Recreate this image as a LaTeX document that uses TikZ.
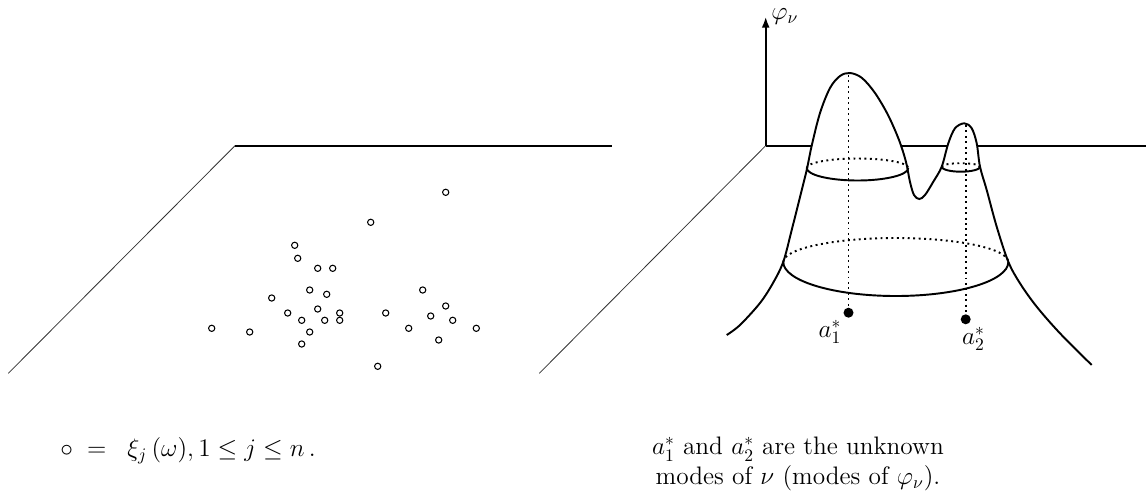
\documentclass[tikz,border=0pt]{standalone}
\usetikzlibrary{arrows.meta}

\begin{document}
\begin{tikzpicture}[x=0.02cm,y=-0.02cm,every node/.style={font=\Large},
  sample/.style={circle,draw,line width=0.6pt,inner sep=0pt,minimum size=0.125cm},
  mode/.style={circle,fill,inner sep=0pt,minimum size=0.2cm},
  surf/.style={line width=1.1pt},
  edge/.style={line width=1pt},
  floor/.style={line width=0.45pt,black!80}]
  \useasboundingbox (0,0) rectangle (1146,495);
  % left plane with the sample points
  \coordinate (lf) at (8.3,373.3);
  \coordinate (lb) at (235,145.7);
  \coordinate (lr) at (612,145.7);
  \draw[floor] (lf)--(lb);
  \draw[edge] (lb)--(lr);
  \foreach \x/\y [count=\i] in {445.7/192.3,370.7/222.3,294.7/245.3,297.7/258.3,317.7/268.3,
      332.7/268.3,309.7/290,326.7/294.3,271.7/298,422.7/290,445.7/306,317.7/309,287.7/313,
      339.7/313,385.7/313,430.7/316,301.7/320.3,324.7/320.3,339.7/320.3,452.7/320.3,
      211.7/328.3,249.7/332,408.7/328.3,476.3/328.3,309.7/332,438.7/340,301.7/344,377.7/366.3}
    \node[sample] (s\i) at (\x,\y) {};
  \node[anchor=base west,inner sep=0pt] (leg) at (60,456.7)
    {$\circ\;=\;\;\xi_j\,(\omega),1 \le j \le n\,.$};
  % right plane with the density
  \coordinate (rf) at (539.3,373.3);
  \coordinate (o) at (765.7,145.7);
  \coordinate (rr) at (1146,145.7);
  \draw[floor] (rf)--(o);
  \draw[edge] (o)--(rr);
  \draw[edge,-{Latex[length=6pt,width=4.5pt]}] (o)--(765.7,17) coordinate (top);
  \node[anchor=west,inner sep=0pt] (phi) at (771,17) {$\varphi_\nu$};
  \draw[surf,fill=white] plot[smooth,tension=0.55] coordinates {
    (726.7,335) (740,325) (760,303) (773,283) (783.3,261.7) (791.7,230) (800,197)
    (806.7,170) (811.7,145.7) (820,113) (830,88) (840,76) (850,73) (862,78) (875,93)
    (888,115) (899,140) (906,162) (910,182) (914,195) (919.3,199)
    (925,195) (933.3,181.7) (941.7,166.7) (948.3,143.3) (955,128.3) (964.3,123.3)
    (971.7,128.3) (976.7,143.3) (980,166.7) (986.7,190) (996.7,226.7) (1008.3,261.7)
    (1020,283.3) (1036.7,306.7) (1060,333.3) (1091.7,365)};
  \coordinate (p1) at (849,75);
  \coordinate (p2) at (965.7,125);
  % level sets
  \draw[surf,dotted] (806.7,168) arc[start angle=180,end angle=360,x radius=50.8,y radius=9.5];
  \draw[surf] (806.7,168) arc[start angle=180,end angle=0,x radius=50.8,y radius=12.5];
  \draw[surf,dotted] (941.7,166.7) arc[start angle=180,end angle=360,x radius=19.2,y radius=3.5];
  \draw[surf] (941.7,166.7) arc[start angle=180,end angle=0,x radius=19.2,y radius=5];
  \draw[surf,dotted] (783.3,262) arc[start angle=180,end angle=360,x radius=112.5,y radius=24];
  \draw[surf] (783.3,262) arc[start angle=180,end angle=0,x radius=112.5,y radius=34];
  % modes
  \node[mode] (m1) at (848.5,312.7) {};
  \node[mode] (m2) at (965.7,319.3) {};
  \draw[surf,dotted] (m1 |- p1)--(m1);
  \draw[surf,dotted] (m2 |- p2)--(m2);
  \node (a1) at (830,332) {$a_1^*$};
  \node (a2) at (973.5,339) {$a_2^*$};
  \node[align=center,anchor=north,inner sep=0pt,font=\fontsize{14.4}{17}\selectfont] (cap) at (798,437)
    {$a_1^*$ and $a_2^*$ are the unknown\\modes of $\nu$ (modes of $\varphi_\nu$).};
\end{tikzpicture}
\end{document}
